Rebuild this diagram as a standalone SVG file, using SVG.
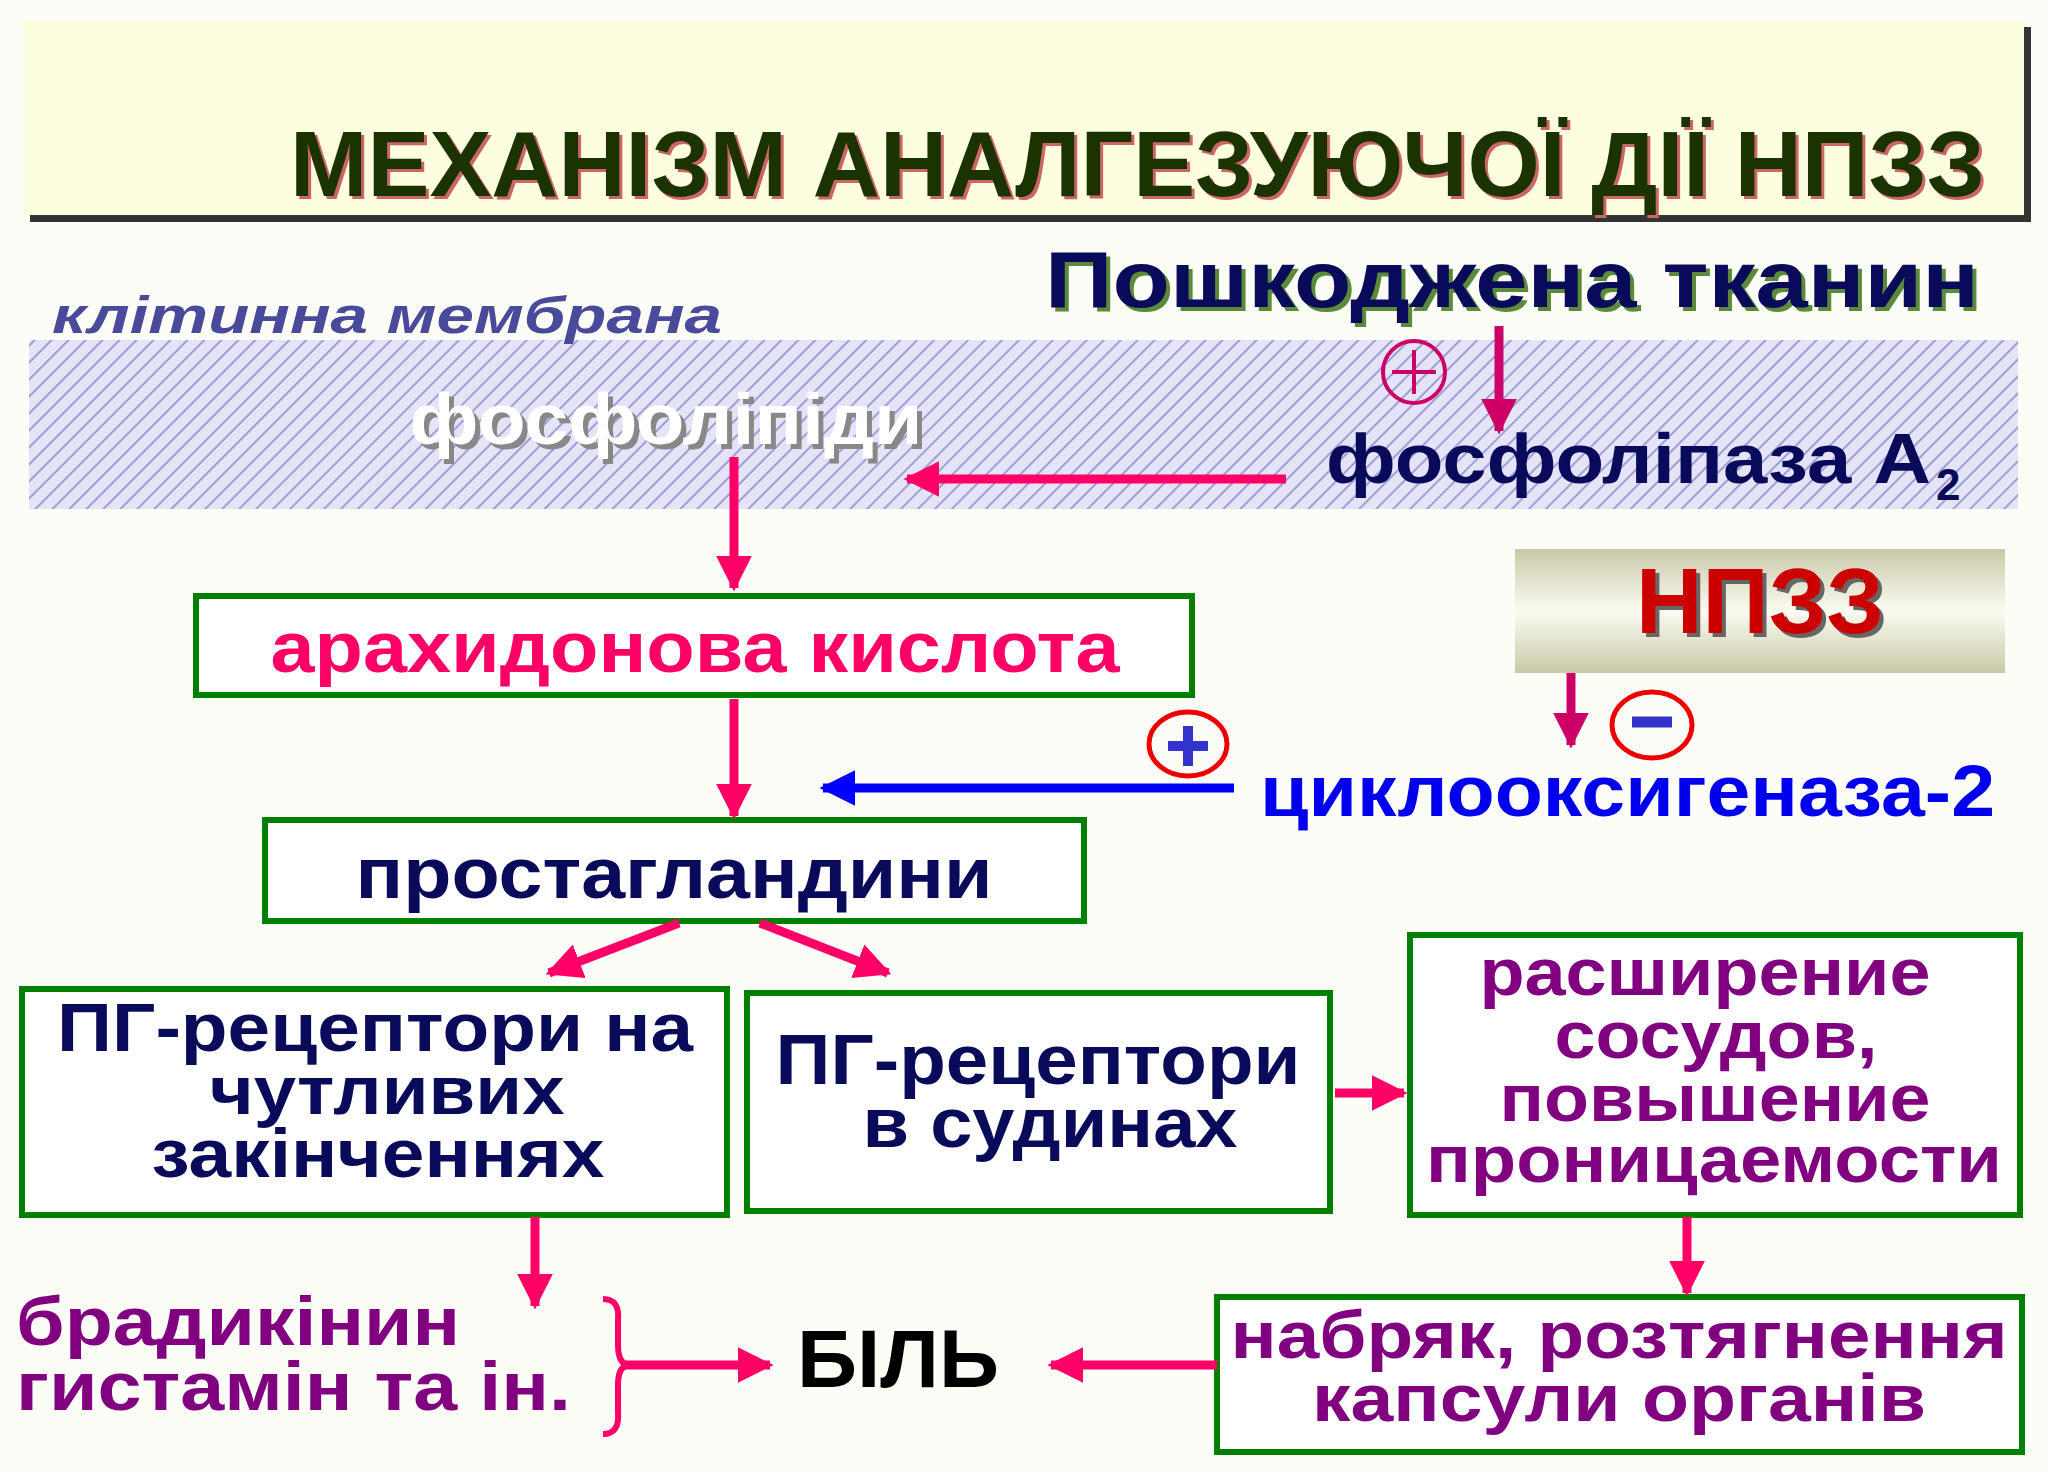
<svg xmlns="http://www.w3.org/2000/svg" width="2048" height="1473" viewBox="0 0 2048 1473">
<defs>
<pattern id="hatch" width="12" height="12" patternUnits="userSpaceOnUse" patternTransform="rotate(45)">
<rect width="12" height="12" fill="#e4e4f6"/>
<line x1="0" y1="0" x2="0" y2="12" stroke="#9f9fd8" stroke-width="4"/>
</pattern>
<linearGradient id="np" x1="0" y1="0" x2="0" y2="1">
<stop offset="0" stop-color="#c9c9a8"/><stop offset="0.5" stop-color="#fbfbf2"/><stop offset="1" stop-color="#c9c9a8"/>
</linearGradient>
<marker id="ap" viewBox="0 0 10 10" refX="9" refY="5" markerWidth="4" markerHeight="4" orient="auto"><path d="M0,0L10,5L0,10z" fill="#ff0066"/></marker>
<marker id="am" viewBox="0 0 10 10" refX="9" refY="5" markerWidth="4" markerHeight="4" orient="auto"><path d="M0,0L10,5L0,10z" fill="#cc0066"/></marker>
<marker id="ab" viewBox="0 0 10 10" refX="9" refY="5" markerWidth="4" markerHeight="4" orient="auto"><path d="M0,0L10,5L0,10z" fill="#0000ff"/></marker>
</defs>
<style>
text{font-family:"Liberation Sans",Arial,sans-serif;font-weight:bold}
.box{fill:#fff;stroke:#008000;stroke-width:6}
.p{stroke:#ff0066;stroke-width:9;fill:none;marker-end:url(#ap)}
.c{text-anchor:middle}
.nv{fill:#0a0a5a}
.pu{fill:#800080}
</style>
<rect width="2048" height="1473" fill="#fdfdf8"/>
<g id="title">
<rect x="30" y="27" width="2001" height="195" fill="#333"/>
<rect x="23" y="20" width="2001" height="195" fill="#fdfde0"/>
<text x="1988" y="199" font-size="92" text-anchor="end" fill="#cc6666" textLength="1695" lengthAdjust="spacingAndGlyphs">МЕХАНІЗМ АНАЛГЕЗУЮЧОЇ ДІЇ НПЗЗ</text>
<text x="1985" y="196" font-size="92" text-anchor="end" fill="#1a3300" textLength="1695" lengthAdjust="spacingAndGlyphs">МЕХАНІЗМ АНАЛГЕЗУЮЧОЇ ДІЇ НПЗЗ</text>
</g>
<g id="membrane">
<rect x="29" y="340" width="1989" height="169" fill="url(#hatch)"/>
<text x="52" y="333" font-size="52" font-style="italic" fill="#4a4a9a" textLength="670" lengthAdjust="spacingAndGlyphs">клітинна мембрана</text>
</g>
<g id="tissue">
<text x="1049" y="311" font-size="80" fill="#5a8a3a" textLength="934" lengthAdjust="spacingAndGlyphs">Пошкоджена тканин</text>
<text x="1045" y="307" font-size="80" class="nv" textLength="934" lengthAdjust="spacingAndGlyphs">Пошкоджена тканин</text>
</g>
<g id="phospholipids">
<text x="671" y="449" font-size="72" class="c" fill="#888" textLength="513" lengthAdjust="spacingAndGlyphs">фосфоліпіди</text>
<text x="666" y="444" font-size="72" class="c" fill="#fff" textLength="513" lengthAdjust="spacingAndGlyphs">фосфоліпіди</text>
</g>
<g id="pla2">
<text x="1326" y="483" font-size="70" class="nv" textLength="605" lengthAdjust="spacingAndGlyphs">фосфоліпаза А</text>
<text x="1936" y="500" font-size="44" class="nv">2</text>
</g>
<g id="arach"><rect class="box" x="196" y="596" width="996" height="99"/>
<text x="695" y="672" font-size="72" class="c" fill="#ff0066" textLength="849" lengthAdjust="spacingAndGlyphs">арахидонова кислота</text></g>
<g id="npzz"><rect x="1515" y="549" width="490" height="124" fill="url(#np)"/>
<text x="1764" y="637" font-size="92" class="c" fill="#666">НПЗЗ</text>
<text x="1760" y="633" font-size="92" class="c" fill="#cc0000">НПЗЗ</text></g>
<g id="cox"><text x="1260" y="816" font-size="72" fill="#0000ee" textLength="735" lengthAdjust="spacingAndGlyphs">циклооксигеназа-2</text></g>
<g id="pg"><rect class="box" x="265" y="820" width="819" height="101"/>
<text x="674" y="898" font-size="72" class="c nv" textLength="637" lengthAdjust="spacingAndGlyphs">простагландини</text></g>
<g id="pgnerve"><rect class="box" x="22" y="989" width="705" height="226"/>
<text x="375" y="1051" font-size="68" class="c nv" textLength="636" lengthAdjust="spacingAndGlyphs">ПГ-рецептори на</text>
<text x="387" y="1114" font-size="68" class="c nv" textLength="355" lengthAdjust="spacingAndGlyphs">чутливих</text>
<text x="378" y="1177" font-size="68" class="c nv" textLength="453" lengthAdjust="spacingAndGlyphs">закінченнях</text></g>
<g id="pgvessel"><rect class="box" x="747" y="993" width="583" height="218"/>
<text x="1038" y="1084" font-size="70" class="c nv" textLength="525" lengthAdjust="spacingAndGlyphs">ПГ-рецептори</text>
<text x="1050" y="1147" font-size="70" class="c nv" textLength="375" lengthAdjust="spacingAndGlyphs">в судинах</text></g>
<g id="dilation"><rect class="box" x="1410" y="935" width="610" height="280"/>
<text x="1705" y="995" font-size="66" class="c pu" textLength="451" lengthAdjust="spacingAndGlyphs">расширение</text>
<text x="1716" y="1058" font-size="66" class="c pu" textLength="323" lengthAdjust="spacingAndGlyphs">сосудов,</text>
<text x="1715" y="1121" font-size="66" class="c pu" textLength="431" lengthAdjust="spacingAndGlyphs">повышение</text>
<text x="1714" y="1182" font-size="66" class="c pu" textLength="576" lengthAdjust="spacingAndGlyphs">проницаемости</text></g>
<g id="edema"><rect class="box" x="1217" y="1297" width="805" height="155"/>
<text x="1619" y="1358" font-size="66" class="c pu" textLength="777" lengthAdjust="spacingAndGlyphs">набряк, розтягнення</text>
<text x="1619" y="1421" font-size="66" class="c pu" textLength="614" lengthAdjust="spacingAndGlyphs">капсули органів</text></g>
<g id="brady">
<text x="16" y="1345" font-size="68" class="pu" textLength="444" lengthAdjust="spacingAndGlyphs">брадикінин</text>
<text x="16" y="1410" font-size="68" class="pu" textLength="555" lengthAdjust="spacingAndGlyphs">гистамін та ін.</text></g>
<g id="pain"><text x="898" y="1387" font-size="81" class="c" fill="#000" textLength="202" lengthAdjust="spacingAndGlyphs">БІЛЬ</text></g>
<g id="connectors">
<circle cx="1414" cy="372" r="31" fill="none" stroke="#cc0066" stroke-width="4"/>
<path d="M1392,372H1436M1414,350V394" stroke="#cc0066" stroke-width="4"/>
<line x1="1499" y1="326" x2="1499" y2="431" stroke="#cc0066" stroke-width="9" marker-end="url(#am)"/>
<line class="p" x1="1286" y1="479" x2="907" y2="479"/>
<line class="p" x1="734" y1="457" x2="734" y2="588"/>
<line class="p" x1="734" y1="699" x2="734" y2="816"/>
<line x1="1571" y1="673" x2="1571" y2="745" stroke="#cc0066" stroke-width="9" marker-end="url(#am)"/>
<ellipse cx="1652" cy="725" rx="40" ry="33" fill="none" stroke="#ee0000" stroke-width="5"/>
<line x1="1632" y1="722" x2="1672" y2="722" stroke="#3333cc" stroke-width="11"/>
<ellipse cx="1188" cy="744" rx="39" ry="32" fill="none" stroke="#ee0000" stroke-width="5"/>
<path d="M1168,746H1208M1188,726V766" stroke="#3333cc" stroke-width="10"/>
<line x1="1234" y1="788" x2="823" y2="788" stroke="#0000ff" stroke-width="9" marker-end="url(#ab)"/>
<line class="p" x1="679" y1="923" x2="549" y2="973"/>
<line class="p" x1="760" y1="923" x2="888" y2="973"/>
<line class="p" x1="1335" y1="1093" x2="1404" y2="1093"/>
<line class="p" x1="1687" y1="1217" x2="1687" y2="1293"/>
<line class="p" x1="1217" y1="1365" x2="1051" y2="1365"/>
<line class="p" x1="535" y1="1217" x2="535" y2="1306"/>
<path d="M603,1299Q620,1299 618,1320V1345Q618,1365 630,1365Q618,1365 618,1385V1412Q620,1434 603,1434" stroke="#ff0066" stroke-width="6" fill="none"/>
<line class="p" x1="625" y1="1365" x2="770" y2="1365"/>
</g>
</svg>
